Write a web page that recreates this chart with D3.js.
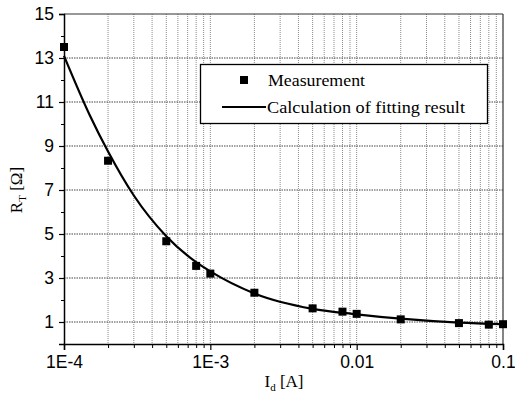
<!DOCTYPE html>
<html><head><meta charset="utf-8">
<script src="https://cdn.jsdelivr.net/npm/d3@7"></script>
<style>body{margin:0;background:#fff}svg{display:block}</style>
</head><body>
<script>
// Measurement data
const measX = [1e-4, 2e-4, 5e-4, 8e-4, 1e-3, 2e-3, 5e-3, 8e-3, 1e-2, 2e-2, 5e-2, 8e-2, 1e-1];
const measY = [13.5, 8.33, 4.67, 3.55, 3.2, 2.33, 1.62, 1.47, 1.37, 1.12, 0.95, 0.88, 0.9];
// Fitting curve
const fitX = [1e-4, 1.5e-4, 2e-4, 3e-4, 5e-4, 8e-4, 1e-3, 2e-3, 5e-3, 1e-2, 2e-2, 5e-2, 1e-1];
const fitY = [13.1, 10.4, 8.75, 6.75, 4.9, 3.72, 3.3, 2.3, 1.6, 1.35, 1.15, 0.97, 0.9];
const xTickVals = [1e-4, 1e-3, 1e-2, 1e-1];
const xTickLabels = ["1E-4", "1E-3", "0.01", "0.1"];
const yTickVals = [1, 3, 5, 7, 9, 11, 13, 15];
const legendLabels = ["Measurement", "Calculation of fitting result"];

const W = 515, H = 401;
const svg = d3.select("body").append("svg").attr("width", W).attr("height", H);
const x = d3.scaleLog().domain([1e-4, 1e-1]).range([64, 503]);
const y = d3.scaleLinear().domain([0, 15]).range([344, 14]);

// minor x values
const xMinor = [];
for (let e = -4; e < -1; e++) for (let m = 2; m <= 9; m++) xMinor.push(m * Math.pow(10, e));
const yMinor = d3.range(0, 15, 2);

const g = svg.append("g");
// vertical grid
g.selectAll(".vg").data(xMinor.concat(xTickVals.slice(1, 3))).enter().append("line")
  .attr("x1", d => x(d)).attr("x2", d => x(d)).attr("y1", y(15)).attr("y2", y(0))
  .attr("stroke", "#8a8a8a").attr("stroke-width", 1).attr("stroke-dasharray", "1,1");
// horizontal grid
g.selectAll(".hg").data(yTickVals.slice(0, -1)).enter().append("line")
  .attr("x1", x(1e-4)).attr("x2", x(1e-1)).attr("y1", d => y(d)).attr("y2", d => y(d))
  .attr("stroke", "#444").attr("stroke-width", 1).attr("stroke-dasharray", "1.5,1");

// frame top/right
g.append("line").attr("x1", x(1e-4)).attr("x2", x(1e-1)).attr("y1", y(15)).attr("y2", y(15)).attr("stroke", "#333").attr("stroke-width", 1.2);
g.append("line").attr("x1", x(1e-1)).attr("x2", x(1e-1)).attr("y1", y(15)).attr("y2", y(0)).attr("stroke", "#333").attr("stroke-width", 1.2);

// axes
const font = "'Liberation Sans', Arial, sans-serif";
const xAxis = d3.axisBottom(x).tickValues(xTickVals).tickFormat((d, i) => xTickLabels[i]).tickSize(6).tickPadding(6);
const xg = svg.append("g").attr("transform", `translate(0,${y(0)})`).call(xAxis);
xg.selectAll("text").attr("font-family", font).attr("font-size", 17.5).attr("fill", "#000");
xg.select(".domain").attr("stroke", "#000").attr("stroke-width", 1.5);
xg.selectAll(".tick line").attr("stroke", "#000").attr("stroke-width", 1.2);
const xm = d3.axisBottom(x).tickValues(xMinor).tickFormat("").tickSize(4);
const xmg = svg.append("g").attr("transform", `translate(0,${y(0)})`).call(xm);
xmg.select(".domain").remove();
xmg.selectAll(".tick line").attr("stroke", "#000");

const yAxis = d3.axisLeft(y).tickValues(yTickVals).tickSize(5).tickPadding(5);
const yg = svg.append("g").attr("transform", `translate(${x(1e-4)},0)`).call(yAxis);
yg.selectAll("text").attr("font-family", font).attr("font-size", 17.5).attr("fill", "#000");
yg.select(".domain").attr("stroke", "#000").attr("stroke-width", 1.5);
yg.selectAll(".tick line").attr("stroke", "#000").attr("stroke-width", 1.2);
const ym = d3.axisLeft(y).tickValues(yMinor).tickFormat("").tickSize(3);
const ymg = svg.append("g").attr("transform", `translate(${x(1e-4)},0)`).call(ym);
ymg.select(".domain").remove();
ymg.selectAll(".tick line").attr("stroke", "#000");

// fit line
const fitData = fitX.map((v, i) => [v, fitY[i]]);
svg.append("path").datum(fitData)
  .attr("d", d3.line().x(d => x(d[0])).y(d => y(d[1])).curve(d3.curveMonotoneX))
  .attr("fill", "none").attr("stroke", "#000").attr("stroke-width", 2.2);

// markers
const ms = 8;
svg.selectAll(".m").data(measX.map((v, i) => [v, measY[i]])).enter().append("rect")
  .attr("x", d => x(d[0]) - ms / 2).attr("y", d => y(d[1]) - ms / 2)
  .attr("width", ms).attr("height", ms).attr("fill", "#000");

// legend
const serif = "'Liberation Serif', 'Times New Roman', serif";
const lg = svg.append("g");
lg.append("rect").attr("x", 200.5).attr("y", 64.5).attr("width", 287).attr("height", 59)
  .attr("fill", "#fff").attr("stroke", "#000").attr("stroke-width", 1.3);
lg.append("rect").attr("x", 240).attr("y", 76).attr("width", 8).attr("height", 8).attr("fill", "#000");
lg.append("line").attr("x1", 222).attr("x2", 266).attr("y1", 107).attr("y2", 107).attr("stroke", "#000").attr("stroke-width", 2.2);
lg.append("text").attr("x", 268).attr("y", 86).text(legendLabels[0])
  .attr("font-family", serif).attr("font-size", 17).attr("textLength", 97).attr("lengthAdjust", "spacingAndGlyphs");
lg.append("text").attr("x", 267).attr("y", 113).text(legendLabels[1])
  .attr("font-family", serif).attr("font-size", 17).attr("textLength", 198).attr("lengthAdjust", "spacingAndGlyphs");

// axis titles
const xt = svg.append("text").attr("x", 284).attr("y", 387).attr("text-anchor", "middle")
  .attr("font-family", serif).attr("font-size", 17);
xt.append("tspan").text("I");
xt.append("tspan").attr("font-size", 11).attr("dy", 4).text("d");
xt.append("tspan").attr("dy", -4).text(" [A]");

const yt = svg.append("text").attr("transform", "translate(22,190) rotate(-90)").attr("text-anchor", "middle")
  .attr("font-family", serif).attr("font-size", 17);
yt.append("tspan").text("R");
yt.append("tspan").attr("font-size", 11).attr("dy", 4).text("T");
yt.append("tspan").attr("dy", -4).text(" [Ω]");
</script>
</body></html>
